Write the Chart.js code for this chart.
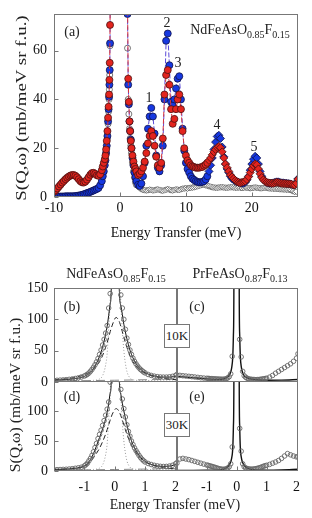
<!DOCTYPE html>
<html>
<head>
<meta charset="utf-8">
<script src="https://cdn.jsdelivr.net/npm/chart.js@4/dist/chart.umd.min.js"></script>
<style>
body { margin: 0; background: #fff; }
#fig { position: relative; width: 312px; height: 518px; overflow: hidden; background: #fff;
       font-family: "Liberation Serif", "Times New Roman", serif; color: #222; }
#fig canvas { position: absolute; }
.lbl { position: absolute; font-size: 14px; line-height: 1; white-space: nowrap; transform: translate(-50%, -50%); z-index: 5; }
.s { font-size: 10px; position: relative; top: 4px; }
.ytl { position: absolute; font-size: 15px; line-height: 1; white-space: nowrap; z-index: 5; }
.box { position: absolute; width: 24px; height: 22px; border: 1px solid #777; background: #fff; font-size: 13px;
       line-height: 22px; text-align: center; z-index: 6; }
</style>
</head>
<body>
<div id="fig">
  <canvas id="cA" width="312" height="245" style="left:0;top:0"></canvas>
  <canvas id="cB" width="182" height="112" style="left:0;top:278px"></canvas>
  <canvas id="cC" width="140" height="112" style="left:172px;top:278px"></canvas>
  <canvas id="cD" width="182" height="146" style="left:0;top:372px"></canvas>
  <canvas id="cE" width="140" height="146" style="left:172px;top:372px"></canvas>

  <div class="lbl" style="left:72px;top:32px">(a)</div>
  <div class="lbl" style="left:240px;top:30px">NdFeAsO<span class="s">0.85</span>F<span class="s">0.15</span></div>
  <div class="lbl" style="left:149px;top:98px">1</div>
  <div class="lbl" style="left:167px;top:23px">2</div>
  <div class="lbl" style="left:178px;top:63px">3</div>
  <div class="lbl" style="left:217px;top:125px">4</div>
  <div class="lbl" style="left:254px;top:147px">5</div>
  <div class="ytl" style="left:21px;top:108px;transform:translate(-50%,-50%) rotate(-90deg) scaleX(1.26)">S(Q,ω) (mb/meV sr f.u.)</div>

  <div class="lbl" style="left:116px;top:274px">NdFeAsO<span class="s">0.85</span>F<span class="s">0.15</span></div>
  <div class="lbl" style="left:240px;top:274px">PrFeAsO<span class="s">0.87</span>F<span class="s">0.13</span></div>
  <div class="lbl" style="left:72px;top:307px">(b)</div>
  <div class="lbl" style="left:197px;top:307px">(c)</div>
  <div class="lbl" style="left:72px;top:397px">(d)</div>
  <div class="lbl" style="left:197px;top:397px">(e)</div>
  <div class="box" style="left:164px;top:324px">10K</div>
  <div class="box" style="left:164px;top:413px">30K</div>
  <div class="ytl" style="left:15px;top:395px;transform:translate(-50%,-50%) rotate(-90deg) scaleX(1.05)">S(Q,ω) (mb/meV sr f.u.)</div>
  <div class="lbl" style="left:175px;top:505px">Energy Transfer (meV)</div>
</div>

<script>
// ---- panel (a): energy transfer and S(Q,w) of the three scans
var eA = [
  -10, -9.75, -9.5, -9.25, -9, -8.75, -8.5, -8.25, -8, -7.75,
  -7.5, -7.25, -7, -6.75, -6.5, -6.25, -6, -5.75, -5.5, -5.25,
  -5, -4.75, -4.5, -4.25, -4, -3.75, -3.5, -3.25, -3, -2.75,
  -2.6, -2.45, -2.3, -2.2, -2.1, -2.0, -1.9, -1.8, -1.72, -1.65, -1.6, -1.55, -1.5, -1.4,
  1.05, 1.15, 1.25, 1.35, 1.45, 1.55, 1.65, 1.75, 1.9, 2.05, 2.2, 2.35, 2.5,
  2.75, 3, 3.25, 3.5, 3.75, 4, 4.25, 4.5, 4.75, 5,
  5.25, 5.5, 5.75, 6, 6.25, 6.5, 6.75, 7, 7.25, 7.5,
  7.75, 8, 8.25, 8.5, 8.75, 9, 9.25, 9.5, 9.75, 10,
  10.25, 10.5, 10.75, 11, 11.25, 11.5, 11.75, 12, 12.25, 12.5,
  12.75, 13, 13.25, 13.5, 13.75, 14, 14.25, 14.5, 14.75, 15,
  15.25, 15.5, 15.75, 16, 16.25, 16.5, 16.75, 17, 17.25, 17.5,
  17.75, 18, 18.25, 18.5, 18.75, 19, 19.25, 19.5, 19.75, 20,
  20.25, 20.5, 20.75, 21, 21.25, 21.5, 21.75, 22, 22.25, 22.5,
  22.75, 23, 23.25, 23.5, 23.75, 24, 24.25, 24.5, 24.75, 25,
  25.25, 25.5, 25.75, 26, 26.25, 26.5, 26.75, 27
];
var blueA = [
  0.2, 0.2, 0.2, 0.2, 0.2, 0.2, 0.2, 0.3, 0.3, 0.3,
  0.3, 0.3, 0.3, 0.4, 0.5, 0.6, 0.7, 0.9, 1.1, 1.3,
  1.6, 1.8, 2.1, 2.4, 2.7, 3.0, 3.3, 3.7, 4.8, 6.5,
  8.5, 10.5, 13, 15, 18, 21, 25, 31, 36, 41, 46, 52, 63, 150,
  150, 75, 46, 38, 31, 27, 23.5, 20, 16, 13, 10, 8, 6.5,
  5.0, 4.5, 5.5, 8.5, 14, 21, 28, 33, 36.5, 33,
  26, 17, 12, 10.5, 13, 21, 40, 64, 67, 54,
  39, 37.5, 40, 44.5, 48.5, 49.5, 40, 28, 19, 14,
  11.5, 10, 8.5, 7.5, 7, 6.5, 6.2, 6.0, 6.0, 6.2,
  6.5, 7.2, 8.5, 10.5, 13, 16, 19.5, 22.5, 24.8, 25.3,
  24, 20.5, 16.5, 13.5, 11.5, 10, 8.5, 7.5, 7, 6.5,
  6.2, 6.0, 5.8, 5.6, 5.6, 6.0, 7, 8.5, 11, 13.5,
  15.5, 16.7, 16, 13.5, 10.5, 8.5, 7.2, 6.5, 6.0, 5.7,
  5.6, 5.6, 5.8, 6.0, 6.2, 6.2, 6.0, 5.8, 5.8, 5.7,
  5.6, 5.5, 5.4, 5.2, 5.0, 5.0, 5.8, 7.5
];
var redA = [
  2.2, 2.8, 3.5, 4.3, 5.1, 5.9, 6.6, 7.3, 7.9, 8.4,
  8.8, 9.0, 9.0, 8.7, 8.1, 7.3, 6.5, 6.0, 5.9, 6.3,
  7.1, 8.1, 9.1, 9.8, 9.9, 9.5, 8.9, 8.7, 9.3, 11.0,
  12.5, 14, 15.5, 17, 19.5, 23, 27, 32.5, 37, 42, 48, 55, 70.5, 150,
  150, 80, 48.5, 39, 31, 27, 23, 20, 17, 14.5, 12.5, 11.5, 10.5,
  9.0, 9.5, 10.5, 12, 14.5, 18, 22, 25, 27, 25,
  21, 16.5, 13, 12, 14, 24, 42, 50, 52, 46,
  36, 30, 32, 36, 40, 42, 36, 27, 20, 17,
  15, 14, 13, 12.5, 12.3, 12, 12, 12, 12.2, 12.3,
  12.8, 13.3, 14, 15, 16, 17.3, 18.5, 19.5, 20.3, 20.7,
  20.2, 18.5, 16, 13.5, 12, 10.5, 9, 8.2, 7.5, 6.8,
  6.3, 6.0, 5.8, 6.0, 6.2, 6.5, 7.2, 8.3, 10, 11.5,
  12.8, 13.5, 13.2, 11.5, 9.5, 8, 7, 6.4, 6.0, 5.8,
  5.7, 5.6, 5.6, 5.8, 6.0, 5.9, 5.7, 5.6, 5.5, 5.5,
  5.4, 5.4, 5.3, 5.2, 5.0, 4.9, 5.6, 7.3
];
var greyA = [
  null, null, null, null, null, null, null, null, null, null,
  null, null, null, null, null, null, null, null, null, null,
  null, null, null, null, null, null, null, null, null, null,
  null, null, null, null, null, 20, 24, 30, 35, 40, 44, 50, 62, 150,
  150, 61, 40, 34, 28, 24, 21, 18, 14, 10.5, 8, 6, 5,
  4.2, 3.6, 3.2, 2.9, 2.8, 2.7, 2.8, 3.0, 2.9, 2.7,
  2.8, 3.0, 3.1, 2.9, 2.7, 2.6, 2.8, 3.0, 3.2, 3.0,
  2.8, 2.7, 2.9, 3.1, 3.0, 2.9, 3.2, 3.4, 3.5, 3.6,
  3.5, 3.7, 3.8, 3.9, 4.0, 4.2, 4.4, 4.6, 4.8, 5.0,
  5.0, 4.8, 4.6, 4.4, 4.2, 4.0, 3.9, 3.8, 3.8, 3.9,
  4.0, 4.0, 3.9, 3.8, 3.8, 3.9, 4.0, 4.0, 3.9, 3.8,
  3.8, 3.9, 3.8, 3.7, 3.8, 3.9, 3.8, 3.7, 3.6, 3.7,
  3.8, 3.9, 3.8, 3.7, 3.6, 3.6, 3.7, 3.8, 3.7, 3.6,
  3.5, 3.5, 3.4, 3.4, 3.3, 3.3, 3.2, 3.2, 3.1, 3.1,
  3.0, 3.0, 2.9, 2.7, 2.4, 2.1, 2.3, 3.8
];

// ---- panels (b)-(e): low energy scans, same energy grid
var eLow = [
  -2.0, -1.9, -1.8, -1.7, -1.6, -1.5, -1.4, -1.3, -1.2, -1.1,
  -1.0, -0.95, -0.9, -0.85, -0.8, -0.75, -0.7, -0.65, -0.6, -0.55,
  -0.5, -0.45, -0.4, -0.35, -0.3, -0.25, -0.2, -0.15, -0.1, -0.05,
  0, 0.05, 0.1, 0.15, 0.2, 0.25, 0.3, 0.35, 0.4, 0.45,
  0.5, 0.55, 0.6, 0.65, 0.7, 0.75, 0.8, 0.85, 0.9, 0.95,
  1.0, 1.1, 1.2, 1.3, 1.4, 1.5, 1.6, 1.7, 1.8, 1.9,
  2.0, 2.05
];
var nd10 = [
  2.5, 2.7, 3.0, 3.3, 3.7, 4.2, 4.8, 5.6, 6.6, 8.0,
  9.6, 10.8, 12.3, 14.3, 17, 20, 23.5, 27.5, 32, 37.5,
  44, 51, 59, 68, 78, 90, 118, 141, 400, 900,
  1200, 1000, 600, 200, 139, 118, 100, 84, 70, 60,
  51, 44, 38, 33, 29, 25.5, 22.5, 20, 18, 16,
  14.5, 12, 10.5, 9.3, 8.5, 8.0, 7.8, 7.8, 8.2, 9.0,
  10.5, 12
];
var pr10 = [
  11, 10.5, 10, 9.5, 9, 8.5, 8, 7.4, 6.8, 6.3,
  5.9, 5.7, 5.5, 5.3, 5.2, 5.0, 4.9, 4.7, 4.6, 4.5,
  4.4, 4.4, 4.6, 5.2, 6.5, 8.5, 13, 41, 300, 900,
  1200, 700, 68, 40, 17, 10, 7.5, 6, 5, 4.5,
  4.2, 4.0, 3.8, 3.7, 3.8, 4.0, 4.3, 4.7, 5.1, 5.5,
  6.0, 7.8, 10.5, 14, 17, 20, 23, 26, 29, 33,
  38, 45
];
var nd30 = [
  2.0, 2.2, 2.4, 2.6, 2.9, 3.3, 3.8, 4.5, 5.3, 6.3,
  8.5, 10.5, 13, 17, 21, 26, 32, 39, 46, 54,
  61, 68, 76, 84, 93, 103, 115, 148, 400, 900,
  1200, 1000, 600, 200, 136, 120, 104, 90, 77, 66,
  58, 50, 44, 38.5, 34, 30, 26, 22.5, 19.5, 17,
  15, 12.5, 10.8, 9.5, 8.5, 7.8, 7.5, 7.6, 8.2, 9.5,
  12, 14
];
var pr30 = [
  13, 20, 21, 20, 19, 17.5, 16, 14.5, 13, 11.5,
  10, 9.3, 8.6, 7.9, 7.2, 6.4, 5.6, 4.8, 4.0, 3.4,
  3.0, 2.8, 3.0, 3.6, 4.8, 7, 12, 40, 300, 900,
  1200, 700, 71, 33, 12, 7, 5, 4, 3.5, 3.1,
  3.0, 3.2, 3.5, 4.0, 4.5, 5.2, 6.0, 7.0, 8.0, 8.8,
  9.5, 11, 13, 15, 17.5, 21, 25, 29, 27, 25,
  23.5, 24
];

// fit curves for the Nd panels: total, broad quasielastic, elastic, background
var fitX = [
  -2.0, -1.6, -1.3, -1.1, -0.9, -0.8, -0.7, -0.6, -0.5, -0.4,
  -0.3, -0.25, -0.2, -0.15, -0.12, -0.09, 0.02, 0.05, 0.13, 0.16,
  0.2, 0.25, 0.3, 0.35, 0.4, 0.5, 0.6, 0.7, 0.8, 0.9,
  1.0, 1.2, 1.4, 1.6, 1.8, 2.05
];
var ndFit10 = [
  3.0, 3.9, 5.4, 7.3, 11.5, 15.5, 21.5, 30, 41, 56,
  76, 89, 106, 125, 140, 240, 1500, 1400, 220, 138,
  122, 108, 92, 80, 69, 51, 38.5, 29.5, 23, 18.5,
  15, 11, 8.8, 7.8, 7.8, 9.5
];
var ndQuasi10 = [
  3.4, 5.0, 7.5, 9.9, 13.9, 16.8, 20.6, 25.7, 32.4, 42.2,
  55.4, 62.8, 71.3, 80.3, 85, 89.5, 102.3, 103, 98.5, 95,
  89, 80.3, 71.3, 62.8, 55.4, 42.2, 32.4, 25.7, 20.6, 16.8,
  13.9, 9.9, 7.5, 5.8, 4.6, 3.5
];
var ndFit30 = [
  2.2, 3.0, 4.4, 6.2, 12.5, 19, 29, 42, 56, 70,
  87, 98, 112, 130, 142, 240, 1500, 1400, 220, 142,
  128, 113, 100, 88, 77, 58, 44, 34, 26, 20,
  16, 11, 8.5, 7.6, 8.2, 11
];
var ndQuasi30 = [
  2.5, 3.5, 5.0, 6.5, 11, 16, 22, 29.5, 38, 48.8,
  61.4, 68.9, 77, 84.8, 89.4, 93.6, 103.5, 104, 100.4, 97.3,
  92.2, 84.8, 77, 68.9, 61.4, 48.8, 38.5, 30.7, 24.7, 19.5,
  15.5, 10.5, 7.5, 5.5, 4.3, 3.3
];
var ndElastic = [
  2.0, 2.0, 2.1, 2.2, 2.3, 2.4, 2.6, 3.2, 4.8, 10,
  27, 45, 85, 130, 170, 230, 1000, 900, 230, 170,
  128, 82, 50, 30, 17, 6.5, 3.5, 2.7, 2.5, 2.4,
  2.4, 2.5, 2.7, 2.9, 3.1, 3.3
];
var baseX = [-2.0, 0, 2.05];
var ndBase10 = [1.5, 2.8, 4.5];
var ndBase30 = [1.2, 2.5, 4.0];

// fit curves for the Pr panels
var fitPrX = [
  -2.0, -1.5, -1.0, -0.6, -0.45, -0.35, -0.28, -0.22, -0.17, -0.13,
  -0.11, -0.095, 0, 0.085, 0.1, 0.12, 0.16, 0.21, 0.27, 0.35,
  0.5, 0.75, 1.0, 1.5, 2.05
];
var prFit10 = [
  9, 7, 5, 4.2, 4.8, 6.5, 9, 13.5, 22, 42,
  75, 140, 3000, 140, 75, 42, 22, 13.5, 9, 6.5,
  4.5, 3.2, 2.8, 3.0, 4.0
];
var prFit30 = [
  0.8, 1.0, 1.3, 1.8, 2.8, 5, 8, 13, 21, 40,
  74, 140, 3000, 140, 74, 40, 21, 13, 8, 5,
  2.5, 1.6, 1.4, 1.8, 2.8
];

Chart.defaults.font.family = '"Liberation Serif", "Times New Roman", serif';
Chart.defaults.font.size = 14;
Chart.defaults.color = '#111';
Chart.defaults.animation = false;
Chart.defaults.plugins.legend.display = false;
Chart.defaults.plugins.tooltip.enabled = false;

function pts(xs, ys) {
    return xs.map(function (x, i) { return {x: x, y: ys[i]}; });
}

// fixed axis box, and no extra room asked for the end labels
function fixSize(size) {
    return function (s) {
        if (s.isHorizontal()) s.height = size; else s.width = size;
        s.paddingTop = 0; s.paddingBottom = 0; s.paddingLeft = 0; s.paddingRight = 0;
    };
}

// box round the plot area, with short ticks pointing inwards
var framePlugin = {
    id: 'frame',
    afterDraw: function (chart) {
        var a = chart.chartArea, ctx = chart.ctx, sx = chart.scales.x, sy = chart.scales.y;
        var x0 = Math.round(a.left) + 0.5, y0 = Math.round(a.top) + 0.5;
        var x1 = Math.round(a.right) - 0.5, y1 = Math.round(a.bottom) - 0.5;
        ctx.save();
        ctx.strokeStyle = '#777';
        ctx.lineWidth = 1;
        ctx.strokeRect(x0, y0, x1 - x0, y1 - y0);
        ctx.beginPath();
        if (sx.options.display) {
            sx.ticks.forEach(function (t) {
                var px = Math.round(sx.getPixelForValue(t.value)) + 0.5;
                ctx.moveTo(px, y1); ctx.lineTo(px, y1 - 4);
            });
        }
        if (sy.options.display) {
            sy.ticks.forEach(function (t) {
                var py = Math.round(sy.getPixelForValue(t.value)) + 0.5;
                ctx.moveTo(x0, py); ctx.lineTo(x0 + 4, py);
            });
        }
        ctx.stroke();
        ctx.restore();
    }
};

// ---- panel (a)
function shapeA(c) { return c.raw && c.raw.x >= 13.5 ? 'rectRot' : 'circle'; }
function radA(c) { return c.raw && c.raw.x >= 13.5 ? 4 : 3.5; }
function shapeGrey(c) { return c.raw && c.raw.x > 2.6 ? 'rectRot' : 'circle'; }

new Chart(document.getElementById('cA'), {
    type: 'scatter',
    data: {
        datasets: [{
            data: pts(eA, redA),
            showLine: true,
            borderColor: '#d8343a',
            borderWidth: 1,
            borderDash: [5, 2],
            pointStyle: shapeA,
            pointRadius: radA,
            pointBackgroundColor: '#e3241e',
            pointBorderColor: '#4a1212',
            pointBorderWidth: 0.8
        }, {
            data: pts(eA, blueA),
            showLine: true,
            borderColor: '#5a4ad8',
            borderWidth: 1,
            borderDash: [5, 2],
            pointStyle: shapeA,
            pointRadius: radA,
            pointBackgroundColor: '#1638e0',
            pointBorderColor: '#10124a',
            pointBorderWidth: 0.8
        }, {
            data: pts(eA, greyA),
            showLine: false,
            pointStyle: shapeGrey,
            pointRadius: 3,
            pointBackgroundColor: '#fff',
            pointBorderColor: '#555',
            pointBorderWidth: 0.8
        }]
    },
    options: {
        responsive: false,
        layout: {padding: {top: 14, right: 14, left: 0, bottom: 0}},
        scales: {
            x: {
                type: 'linear', min: -10, max: 27,
                grid: {display: false, drawTicks: false},
                border: {display: false},
                ticks: {stepSize: 10, includeBounds: false, padding: 3},
                title: {display: true, text: 'Energy Transfer (meV)', padding: {top: 0, bottom: 3}},
                afterFit: fixSize(48)
            },
            y: {
                min: 0, max: 75,
                grid: {display: false, drawTicks: false},
                border: {display: false},
                ticks: {stepSize: 20, includeBounds: false, padding: 7},
                afterFit: fixSize(54)
            }
        }
    },
    plugins: [framePlugin]
});

// ---- panels (b)-(e)
function lowPanel(id, sets, opt) {
    return new Chart(document.getElementById(id), {
        type: 'scatter',
        data: {datasets: sets},
        options: {
            responsive: false,
            layout: {padding: opt.padding},
            scales: {
                x: {
                    type: 'linear', min: -2, max: 2.05,
                    display: opt.showX,
                    grid: {display: false, drawTicks: false},
                    border: {display: false},
                    ticks: {
                        stepSize: 1, includeBounds: false, padding: 8,
                        callback: function (v) { return v === -2 ? null : String(v); }
                    },
                    afterFit: fixSize(opt.showX ? 47 : 0)
                },
                y: {
                    min: 0, max: 150,
                    display: opt.showY,
                    grid: {display: false, drawTicks: false},
                    border: {display: false},
                    ticks: {
                        stepSize: 50, includeBounds: false, padding: 6,
                        callback: function (v) { return (v === 150 && !opt.top) ? null : String(v); }
                    },
                    afterFit: fixSize(opt.showY ? 54 : 0)
                }
            }
        },
        plugins: [framePlugin]
    });
}

function dataSet(ys) {
    return {
        data: pts(eLow, ys), showLine: false, pointStyle: 'circle', pointRadius: 2.3,
        pointBackgroundColor: 'rgba(0,0,0,0)', pointBorderColor: '#666', pointBorderWidth: 0.9
    };
}
function curve(xs, ys, color, dash, width) {
    return {
        data: pts(xs, ys), showLine: true, pointRadius: 0, borderColor: color,
        borderWidth: width || 1, borderDash: dash || [], cubicInterpolationMode: 'monotone'
    };
}

lowPanel('cB', [
    dataSet(nd10),
    curve(fitX, ndFit10, '#111'),
    curve(fitX, ndQuasi10, '#222', [5, 3]),
    curve(fitX, ndElastic, '#999', [1, 2]),
    curve(baseX, ndBase10, '#888', [9, 5])
], {padding: {top: 10, right: 5, left: 0, bottom: 8}, showX: false, showY: true, top: true});

lowPanel('cC', [
    dataSet(pr10),
    curve(fitPrX, prFit10, '#111', [], 1.4)
], {padding: {top: 10, right: 14, left: 4, bottom: 8}, showX: false, showY: false, top: true});

lowPanel('cD', [
    dataSet(nd30),
    curve(fitX, ndFit30, '#111'),
    curve(fitX, ndQuasi30, '#222', [5, 3]),
    curve(fitX, ndElastic, '#999', [1, 2]),
    curve(baseX, ndBase30, '#888', [9, 5])
], {padding: {top: 9, right: 5, left: 0, bottom: 0}, showX: true, showY: true, top: false});

lowPanel('cE', [
    dataSet(pr30),
    curve(fitPrX, prFit30, '#111', [], 1.4)
], {padding: {top: 9, right: 14, left: 4, bottom: 0}, showX: true, showY: false, top: false});
</script>
</body>
</html>
